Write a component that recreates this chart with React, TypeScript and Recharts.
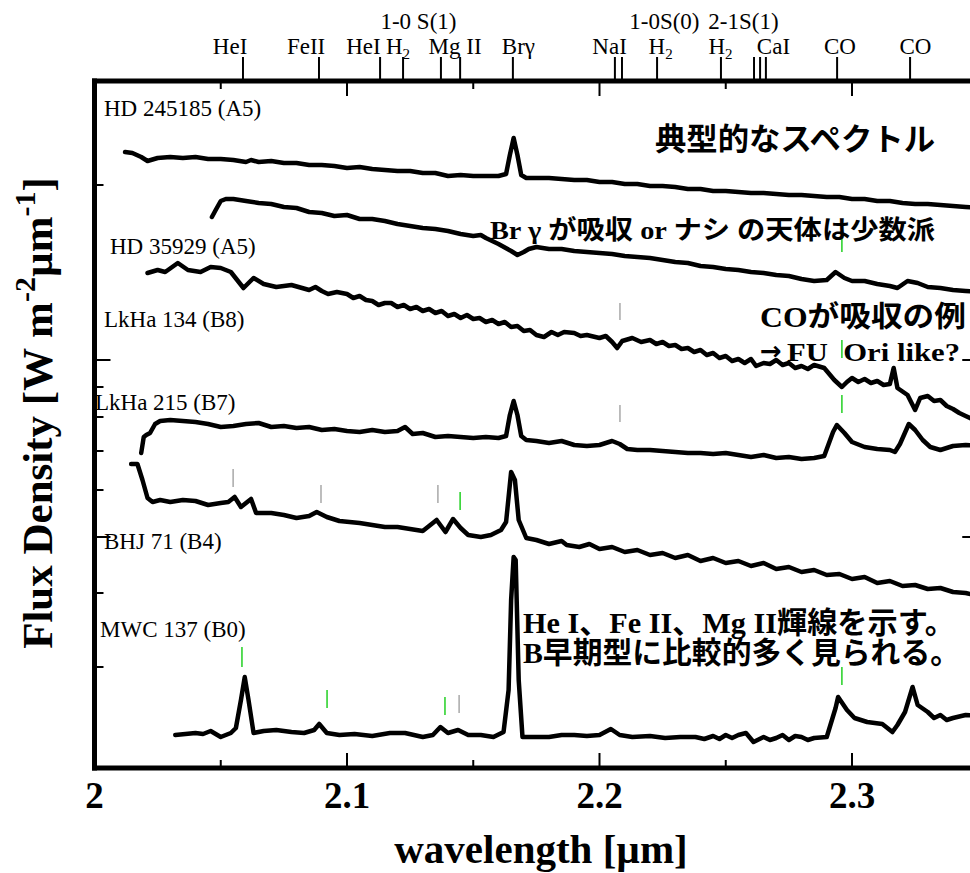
import React from 'react';
import { LineChart, Line, XAxis, YAxis, ReferenceLine } from 'recharts';

type P = [number, number];

// wavelength [µm], flux (arbitrary offset units)
const HD245185: P[] = [
  [2.0121, 61.6], [2.015, 61.5], [2.0185, 61.1], [2.021, 60.7], [2.025, 61.0], [2.03, 61.1], [2.035, 61.0],
  [2.04, 61.1], [2.045, 60.9], [2.05, 60.9], [2.055, 60.8], [2.06, 60.6], [2.062, 60.8], [2.065, 60.6],
  [2.07, 60.7], [2.075, 60.5], [2.08, 60.5], [2.085, 60.3], [2.09, 60.3], [2.095, 60.2], [2.1, 60.0],
  [2.105, 60.1], [2.11, 59.9], [2.115, 59.8], [2.12, 59.7], [2.125, 59.7], [2.13, 59.5], [2.135, 59.5],
  [2.14, 59.2], [2.145, 59.3], [2.15, 59.2], [2.155, 59.2], [2.16, 59.2], [2.163, 59.4], [2.1645, 61.3],
  [2.166, 63.0], [2.1675, 61.3], [2.169, 59.3], [2.171, 59.0], [2.175, 59.0], [2.18, 59.0], [2.185, 58.9],
  [2.19, 58.8], [2.195, 58.8], [2.2, 58.6], [2.205, 58.6], [2.21, 58.4], [2.215, 58.4], [2.22, 58.2],
  [2.225, 58.2], [2.23, 58.1], [2.235, 57.9], [2.24, 57.9], [2.245, 57.7], [2.25, 57.7], [2.255, 57.6],
  [2.26, 57.5], [2.265, 57.5], [2.27, 57.4], [2.275, 57.3], [2.28, 57.3], [2.285, 57.2], [2.29, 57.1],
  [2.295, 57.1], [2.3, 56.9], [2.305, 56.9], [2.31, 56.7], [2.315, 56.7], [2.32, 56.5], [2.325, 56.4],
  [2.33, 56.4], [2.335, 56.3], [2.34, 56.2], [2.345, 56.1], [2.35, 56.0],
];

const HD35929: P[] = [
  [2.0465, 55.1], [2.048, 55.8], [2.05, 56.7], [2.052, 56.9], [2.055, 56.9], [2.06, 56.7], [2.065, 56.5],
  [2.07, 56.4], [2.075, 56.1], [2.08, 56.0], [2.085, 55.6], [2.09, 55.5], [2.095, 55.2], [2.1, 55.3],
  [2.105, 54.9], [2.11, 54.9], [2.115, 54.7], [2.12, 54.4], [2.125, 54.2], [2.13, 54.0], [2.135, 53.9],
  [2.14, 53.7], [2.145, 53.4], [2.15, 53.2], [2.153, 53.3], [2.155, 53.0], [2.16, 52.4], [2.165, 51.7],
  [2.1675, 51.3], [2.17, 51.6], [2.172, 51.9], [2.175, 52.1], [2.18, 51.9], [2.185, 51.9], [2.19, 51.7],
  [2.195, 51.6], [2.2, 51.5], [2.205, 51.4], [2.21, 51.2], [2.215, 51.1], [2.22, 51.0], [2.225, 50.8],
  [2.23, 50.6], [2.235, 50.5], [2.24, 50.2], [2.245, 50.1], [2.25, 49.9], [2.255, 49.8], [2.26, 49.6],
  [2.265, 49.5], [2.27, 49.3], [2.275, 49.2], [2.28, 48.9], [2.285, 48.7], [2.29, 48.8], [2.2935, 49.6],
  [2.297, 49.0], [2.3, 48.7], [2.305, 48.7], [2.31, 48.4], [2.315, 48.2], [2.318, 48.0], [2.322, 48.7],
  [2.326, 48.5], [2.33, 48.1], [2.335, 48.0], [2.34, 47.8], [2.345, 47.7], [2.35, 47.6],
];

const LKHA134: P[] = [
  [2.021, 49.5], [2.025, 49.8], [2.028, 49.6], [2.033, 50.5], [2.037, 49.8], [2.042, 49.6], [2.046, 50.1],
  [2.05, 50.0], [2.054, 49.6], [2.059, 48.0], [2.063, 49.0], [2.067, 48.4], [2.072, 48.1], [2.078, 48.3],
  [2.085, 47.8], [2.0875, 48.1], [2.09, 47.7], [2.0925, 47.4], [2.096, 47.6], [2.1, 47.4], [2.1025, 47.0],
  [2.105, 47.2], [2.1075, 46.8], [2.11, 46.7], [2.1125, 46.3], [2.115, 46.5], [2.1175, 46.5], [2.12, 46.1],
  [2.1225, 46.3], [2.125, 45.9], [2.1275, 46.1], [2.13, 45.7], [2.1325, 45.9], [2.135, 45.5], [2.1375, 45.7],
  [2.14, 45.2], [2.1425, 45.4], [2.145, 45.0], [2.1475, 45.3], [2.15, 44.9], [2.1525, 45.0], [2.155, 44.6],
  [2.1575, 44.8], [2.16, 44.4], [2.1625, 44.6], [2.165, 44.1], [2.1675, 44.2], [2.17, 43.7], [2.1725, 43.8],
  [2.175, 43.3], [2.178, 43.1], [2.181, 43.6], [2.1835, 43.3], [2.186, 43.6], [2.19, 43.5], [2.1925, 43.2],
  [2.195, 43.3], [2.2, 43.0], [2.2025, 43.2], [2.205, 42.6], [2.207, 42.0], [2.209, 42.7], [2.213, 43.0],
  [2.2165, 42.6], [2.22, 42.8], [2.2225, 42.4], [2.225, 42.6], [2.2275, 42.2], [2.23, 42.3], [2.2325, 41.9],
  [2.235, 42.0], [2.2375, 41.6], [2.24, 41.8], [2.2425, 41.3], [2.245, 41.5], [2.2475, 41.0], [2.25, 41.2],
  [2.2525, 40.7], [2.255, 40.9], [2.2575, 40.5], [2.26, 40.9], [2.262, 40.2], [2.265, 40.5], [2.2675, 40.4],
  [2.27, 40.8], [2.2725, 40.3], [2.275, 40.5], [2.2775, 40.0], [2.28, 40.2], [2.2825, 39.9], [2.285, 40.3],
  [2.289, 40.0], [2.293, 38.8], [2.296, 38.1], [2.298, 38.6], [2.3, 39.0], [2.3025, 38.6], [2.305, 38.9],
  [2.3075, 38.5], [2.31, 38.7], [2.3125, 38.3], [2.315, 38.4], [2.3165, 40.0], [2.318, 38.0], [2.322, 37.3],
  [2.325, 35.8], [2.327, 37.0], [2.33, 37.2], [2.3325, 36.7], [2.335, 36.8], [2.3375, 36.2], [2.34, 35.9],
  [2.3425, 35.5], [2.345, 35.2], [2.3475, 34.9], [2.35, 34.7],
];

const LKHA215: P[] = [
  [2.0185, 31.5], [2.0195, 33.1], [2.0205, 33.3], [2.022, 33.5], [2.024, 34.4], [2.026, 34.7], [2.03, 34.8],
  [2.035, 34.7], [2.04, 34.6], [2.045, 34.4], [2.05, 34.1], [2.055, 34.2], [2.06, 34.4], [2.065, 34.5],
  [2.07, 34.1], [2.075, 34.2], [2.08, 34.0], [2.085, 34.1], [2.09, 33.8], [2.095, 33.9], [2.1, 33.7],
  [2.105, 33.6], [2.11, 33.8], [2.115, 33.6], [2.12, 33.7], [2.123, 34.1], [2.126, 33.4], [2.13, 33.5],
  [2.135, 33.1], [2.14, 33.2], [2.145, 33.1], [2.15, 33.0], [2.155, 33.1], [2.16, 33.0], [2.163, 33.2],
  [2.1645, 35.3], [2.166, 36.7], [2.1675, 35.3], [2.169, 33.2], [2.171, 32.8], [2.175, 32.7], [2.18, 32.5],
  [2.185, 32.7], [2.19, 32.3], [2.195, 32.2], [2.2, 32.3], [2.205, 32.7], [2.208, 32.4], [2.211, 31.9],
  [2.215, 31.8], [2.22, 31.8], [2.225, 31.7], [2.23, 31.6], [2.235, 31.5], [2.24, 31.5], [2.245, 31.4],
  [2.25, 31.5], [2.255, 31.3], [2.26, 31.1], [2.265, 31.3], [2.27, 31.0], [2.275, 31.1], [2.28, 30.9],
  [2.285, 31.0], [2.289, 31.2], [2.2925, 33.6], [2.294, 34.3], [2.297, 33.5], [2.3, 32.6], [2.305, 32.1],
  [2.31, 31.9], [2.315, 31.8], [2.317, 31.6], [2.319, 32.4], [2.3225, 34.4], [2.325, 33.8], [2.328, 32.8],
  [2.331, 32.1], [2.335, 31.8], [2.34, 32.2], [2.345, 32.3], [2.35, 32.2],
];

const BHJ71: P[] = [
  [2.0145, 30.4], [2.017, 30.4], [2.019, 28.8], [2.021, 27.0], [2.023, 26.6], [2.026, 26.8], [2.03, 26.6],
  [2.035, 26.8], [2.04, 26.7], [2.045, 26.3], [2.05, 26.5], [2.053, 26.6], [2.0555, 27.1], [2.058, 26.1],
  [2.062, 26.9], [2.064, 25.5], [2.07, 25.5], [2.075, 25.3], [2.08, 25.0], [2.085, 25.2], [2.088, 25.6],
  [2.092, 25.1], [2.097, 24.7], [2.105, 24.5], [2.11, 24.3], [2.115, 24.1], [2.12, 24.1], [2.125, 23.9],
  [2.13, 23.7], [2.1355, 24.8], [2.139, 23.6], [2.142, 24.9], [2.145, 24.0], [2.148, 23.3], [2.153, 23.1],
  [2.157, 23.3], [2.161, 23.8], [2.163, 24.6], [2.165, 29.6], [2.1665, 28.8], [2.168, 24.8], [2.171, 23.0],
  [2.175, 22.8], [2.18, 22.4], [2.185, 22.7], [2.187, 22.3], [2.192, 22.1], [2.196, 22.4], [2.2, 21.9],
  [2.205, 22.1], [2.21, 21.6], [2.215, 21.8], [2.22, 21.3], [2.225, 21.5], [2.23, 21.0], [2.235, 21.3],
  [2.24, 20.7], [2.245, 21.0], [2.25, 20.5], [2.255, 20.7], [2.26, 20.2], [2.265, 20.5], [2.27, 19.9],
  [2.275, 20.1], [2.28, 19.6], [2.285, 19.8], [2.29, 19.3], [2.295, 19.4], [2.3, 18.9], [2.305, 19.1],
  [2.31, 18.5], [2.315, 18.7], [2.32, 18.2], [2.325, 18.3], [2.33, 17.9], [2.335, 18.0], [2.34, 17.6],
  [2.345, 17.5], [2.35, 17.2],
];

const MWC137: P[] = [
  [2.032, 3.3], [2.036, 3.4], [2.04, 3.5], [2.043, 3.4], [2.046, 3.7], [2.05, 3.1], [2.054, 3.5],
  [2.056, 4.0], [2.058, 6.8], [2.0595, 9.1], [2.061, 6.8], [2.063, 3.5], [2.067, 3.7], [2.072, 3.8],
  [2.078, 3.6], [2.083, 3.5], [2.087, 3.8], [2.089, 4.4], [2.092, 3.5], [2.097, 3.3], [2.103, 3.4],
  [2.11, 3.2], [2.117, 3.5], [2.123, 3.5], [2.13, 3.1], [2.134, 3.3], [2.137, 4.1], [2.14, 3.5],
  [2.144, 3.8], [2.148, 3.3], [2.153, 3.3], [2.158, 3.1], [2.162, 3.6], [2.164, 7.8], [2.165, 16.8],
  [2.166, 21.1], [2.1668, 20.8], [2.168, 8.8], [2.1695, 3.1], [2.175, 3.1], [2.18, 3.1], [2.185, 3.3],
  [2.19, 3.3], [2.195, 3.2], [2.2, 3.3], [2.2045, 3.9], [2.208, 3.3], [2.213, 3.1], [2.22, 3.2],
  [2.226, 3.0], [2.232, 3.1], [2.238, 3.1], [2.2415, 2.9], [2.245, 3.2], [2.2475, 2.9], [2.25, 3.3],
  [2.2525, 3.0], [2.255, 3.3], [2.258, 3.5], [2.261, 2.6], [2.265, 3.1], [2.2675, 2.8], [2.27, 3.0],
  [2.2725, 3.3], [2.275, 2.8], [2.2775, 3.2], [2.28, 3.1], [2.2825, 2.8], [2.285, 3.0], [2.29, 3.1],
  [2.2935, 6.0], [2.2945, 7.1], [2.298, 5.8], [2.301, 5.0], [2.306, 4.6], [2.312, 4.4], [2.316, 3.6],
  [2.318, 4.3], [2.321, 5.6], [2.324, 8.1], [2.326, 6.3], [2.33, 5.6], [2.3325, 5.0], [2.335, 5.3],
  [2.3375, 4.8], [2.34, 5.0], [2.345, 5.3], [2.35, 5.2],
];

const spectra: P[][] = [HD245185, HD35929, LKHA134, LKHA215, BHJ71, MWC137];

// small identification marks near the spectra: wavelength, low, high, colour
const markWl = [2.296, 2.2081, 2.296, 2.2081, 2.296, 2.0549, 2.0897, 2.136, 2.1448, 2.0584, 2.0921, 2.1388, 2.1444, 2.296];
const markLow = [51.6, 44.8, 41.0, 34.6, 35.5, 28.1, 26.5, 26.5, 25.8, 10.1, 6.0, 5.3, 5.5, 8.3];
const markHigh = [53.2, 46.5, 42.8, 36.3, 37.3, 29.9, 28.3, 28.3, 27.6, 12.1, 7.8, 7.1, 7.3, 10.1];
const markColor = ['#22d022', '#a8a8a8', '#22d022', '#a8a8a8', '#22d022', '#a8a8a8', '#a8a8a8', '#a8a8a8', '#22d022', '#22d022', '#22d022', '#22d022', '#a8a8a8', '#22d022'];

const bottomTicks = [2, 2.05, 2.1, 2.15, 2.2, 2.25, 2.3];
const bottomTickLabels = ['2', '', '2.1', '', '2.2', '', '2.3'];
const topFrameTicks = [2.05, 2.1, 2.15, 2.2, 2.25, 2.3];
const topFrameMajor = [false, true, false, true, false, true];
const lineMarkers = [2.0588, 2.0889, 2.1131, 2.1222, 2.1372, 2.1448, 2.1657, 2.2061, 2.2089, 2.2228, 2.2481, 2.2612, 2.2636, 2.2659, 2.2941, 2.323];
const lineLabelWl = [2.0537, 2.0838, 2.1065, 2.1202, 2.1428, 2.1283, 2.1679, 2.204, 2.2242, 2.2257, 2.2479, 2.257, 2.2689, 2.2952, 2.3251];
const lineLabelText = ['HeI', 'FeII', 'HeI', 'H', 'Mg II', '1-0 S(1)', 'Brγ', 'NaI', 'H', '1-0S(0)', 'H', '2-1S(1)', 'CaI', 'CO', 'CO'];
const lineLabelSub = ['', '', '', '2', '', '', '', '', '2', '', '2', '', '', '', ''];
const lineLabelRow = [0, 0, 0, 0, 0, 1, 0, 0, 0, 1, 0, 1, 0, 0, 0];

const yTicks = [58.3, 40.8, 38.1, 35.1, 31.7, 27.8, 23.1, 17.5, 10.1];
const yTickMajor = [false, true, false, false, false, false, true, false, false];

const starNames = ['HD 245185 (A5)', 'HD 35929 (A5)', 'LkHa 134 (B8)', 'LkHa 215 (B7)', 'BHJ 71 (B4)', 'MWC 137 (B0)'];
const starNameX = [104, 110, 104, 95, 104, 100];
const starNameY = [116, 254, 327, 410, 549, 637];

const notes = [
  '典型的なスペクトル',
  'Br γ が吸収 or ナシ の天体は少数派',
  'COが吸収の例',
  'FU\u00a0\u00a0Ori like?',
  'He I、Fe II、Mg II輝線を示す。',
  'B早期型に比較的多く見られる。',
];
const notePrefix = ['', '', '', '→', '', ''];
const noteX = [655, 490, 760, 760, 523, 523];
const noteY = [150, 239, 327, 361, 633, 663];
const noteSize = [31, 26, 29, 26, 30, 30];
const noteLen = [280, 445, 206, 200, 432, 437];

const SERIF = "'Liberation Serif', 'Times New Roman', serif";
const JP = "'Liberation Serif', 'Noto Sans CJK JP', serif";
const ARROW = "'DejaVu Sans', sans-serif";

const topKind = new Map<number, { kind: string; i: number }>();
topFrameTicks.forEach((v, i) => topKind.set(v, { kind: 'frame', i }));
lineMarkers.forEach((v, i) => topKind.set(v, { kind: 'marker', i }));
lineLabelWl.forEach((v, i) => topKind.set(v, { kind: 'label', i }));
const topTicks = [...topFrameTicks, ...lineMarkers, ...lineLabelWl];

const TopTick = (props: any) => {
  const { x, y, payload } = props;
  const info = topKind.get(payload.value);
  if (!info) return <g />;
  if (info.kind === 'frame') {
    const len = topFrameMajor[info.i] ? 15 : 8;
    return <line x1={x} x2={x} y1={y} y2={y + len} stroke="#000" strokeWidth={2} />;
  }
  if (info.kind === 'marker') {
    return <line x1={x} x2={x} y1={y} y2={y - 24} stroke="#000" strokeWidth={2} />;
  }
  const i = info.i;
  return (
    <text x={x} y={y - (lineLabelRow[i] === 0 ? 27 : 52)} textAnchor="middle" fontSize={23} fontFamily={SERIF} fill="#000">
      {lineLabelText[i]}
      {lineLabelSub[i] ? <tspan dy={5} fontSize={15}>{lineLabelSub[i]}</tspan> : null}
    </text>
  );
};

const BottomTick = (props: any) => {
  const { x, y, payload } = props;
  const i = bottomTicks.indexOf(payload.value);
  const label = i >= 0 ? bottomTickLabels[i] : '';
  const len = label ? 15 : 8;
  return (
    <g>
      {payload.value !== 2 && <line x1={x} x2={x} y1={y} y2={y - len} stroke="#000" strokeWidth={2} />}
      {label && (
        <text x={x} y={y + 40} textAnchor="middle" fontSize={37} fontWeight="bold" fontFamily={SERIF} fill="#000">
          {label}
        </text>
      )}
    </g>
  );
};

const LeftTick = (props: any) => {
  const { x, y, payload } = props;
  const i = yTicks.indexOf(payload.value);
  const len = i >= 0 && yTickMajor[i] ? 16 : 9;
  return <line x1={x} x2={x + len} y1={y} y2={y} stroke="#000" strokeWidth={2} />;
};

const RightTick = (props: any) => {
  const { x, y, payload } = props;
  const i = yTicks.indexOf(payload.value);
  const len = i >= 0 && yTickMajor[i] ? 16 : 8;
  return <line x1={x} x2={x - len} y1={y} y2={y} stroke="#000" strokeWidth={2} />;
};

const axisLineStyle = { stroke: '#000', strokeWidth: 5, strokeLinecap: 'square' as const };

export default function App() {
  return (
    <div style={{ position: 'fixed', left: 0, top: 0, width: 970, height: 873, overflow: 'hidden', background: '#fff' }}>
      <LineChart width={990} height={873} margin={{ top: 71, right: 1.75, bottom: 95, left: 84.5 }}>
        <XAxis
          xAxisId="b"
          type="number"
          dataKey="x"
          orientation="bottom"
          domain={[2, 2.35]}
          allowDataOverflow
          ticks={bottomTicks}
          interval={0}
          height={10}
          tickSize={0}
          tickMargin={0}
          tickLine={false}
          axisLine={axisLineStyle}
          tick={(p: any) => <BottomTick {...p} />}
        />
        <XAxis
          xAxisId="t"
          type="number"
          dataKey="x"
          orientation="top"
          domain={[2, 2.35]}
          allowDataOverflow
          ticks={topTicks}
          interval={0}
          height={10}
          tickSize={0}
          tickMargin={0}
          tickLine={false}
          axisLine={axisLineStyle}
          tick={(p: any) => <TopTick {...p} />}
        />
        <YAxis
          yAxisId="l"
          type="number"
          orientation="left"
          domain={[0, 68.7]}
          allowDataOverflow
          ticks={yTicks}
          interval={0}
          width={10}
          tickSize={0}
          tickMargin={0}
          tickLine={false}
          axisLine={axisLineStyle}
          tick={(p: any) => <LeftTick {...p} />}
        />
        <YAxis
          yAxisId="r"
          type="number"
          orientation="right"
          domain={[0, 68.7]}
          allowDataOverflow
          ticks={yTicks}
          interval={0}
          width={10}
          tickSize={0}
          tickMargin={0}
          tickLine={false}
          axisLine={axisLineStyle}
          tick={(p: any) => <RightTick {...p} />}
        />
        {markWl.map((wl, i) => (
          <ReferenceLine
            key={'m' + i}
            xAxisId="b"
            yAxisId="l"
            segment={[{ x: wl, y: markLow[i] }, { x: wl, y: markHigh[i] }]}
            stroke={markColor[i]}
            strokeWidth={1.5}
          />
        ))}
        {spectra.map((s, i) => (
          <Line
            key={'s' + i}
            xAxisId="b"
            yAxisId="l"
            data={s.map(([x, y]) => ({ x, y }))}
            dataKey="y"
            type="linear"
            stroke="#000"
            strokeWidth={4.5}
            strokeLinejoin="round"
            strokeLinecap="round"
            dot={false}
            activeDot={false}
            isAnimationActive={false}
          />
        ))}
      </LineChart>
      <svg width={970} height={873} style={{ position: 'absolute', left: 0, top: 0, pointerEvents: 'none' }}>
        {starNames.map((n, i) => (
          <text key={'n' + i} x={starNameX[i]} y={starNameY[i]} fontSize={23} fontFamily={SERIF} fill="#000">
            {n}
          </text>
        ))}
        {notes.map((n, i) =>
          notePrefix[i] ? (
            <g key={'t' + i}>
              <text x={noteX[i]} y={noteY[i] - 1} fontSize={noteSize[i]} fontWeight="bold" fontFamily={ARROW} fill="#000">
                {notePrefix[i]}
              </text>
              <text
                x={noteX[i] + 27}
                y={noteY[i]}
                fontSize={noteSize[i]}
                fontWeight="bold"
                fontFamily={JP}
                textLength={noteLen[i] - 27}
                lengthAdjust="spacingAndGlyphs"
                fill="#000"
              >
                {n}
              </text>
            </g>
          ) : (
            <text
              key={'t' + i}
              x={noteX[i]}
              y={noteY[i]}
              fontSize={noteSize[i]}
              fontWeight="bold"
              fontFamily={JP}
              textLength={noteLen[i]}
              lengthAdjust="spacingAndGlyphs"
              fill="#000"
            >
              {n}
            </text>
          )
        )}
        <text x={541} y={863} textAnchor="middle" fontSize={41} fontWeight="bold" fontFamily={SERIF} fill="#000">
          wavelength [µm]
        </text>
        <text
          x={52}
          y={413}
          transform="rotate(-90 52 413)"
          textAnchor="middle"
          fontSize={43}
          fontWeight="bold"
          fontFamily={SERIF}
          fill="#000"
        >
          Flux Density [W m<tspan dy={-17} fontSize={30}>-2</tspan>
          <tspan dy={17}>µm</tspan>
          <tspan dy={-17} fontSize={30}>-1</tspan>
          <tspan dy={17}>]</tspan>
        </text>
      </svg>
    </div>
  );
}
